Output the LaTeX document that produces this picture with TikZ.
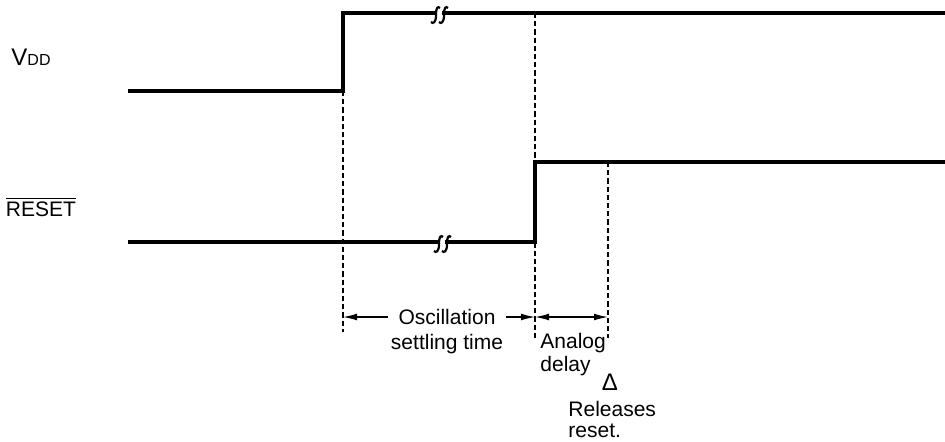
\documentclass[tikz,border=0pt]{standalone}
\usepackage{fontspec}
\setmainfont{Liberation Sans}
\usetikzlibrary{arrows.meta}

\begin{document}
\begin{tikzpicture}[
x=0.5pt, y=-0.5pt,
signal/.style={line width=2pt},
guide/.style={line width=0.9pt, dash pattern=on 2.6pt off 1.5pt},
span/.style={line width=0.6pt, -{Latex[length=7pt,width=3.4pt]}},
twospan/.style={line width=0.6pt, {Latex[length=7pt,width=3.4pt]}-{Latex[length=7pt,width=3.4pt]}},
lbl/.style={font=\fontsize{10.5}{11.5}\selectfont, inner sep=0pt},
breakmark/.pic={
	\fill[white] (-3,-4) rectangle (2,4);
	\draw[line width=1.1pt] (-9,7) .. controls (-7,9) and (-4,8) .. (-4,0)
		.. controls (-4,-8) and (-2,-9) .. (0,-7);
	\draw[line width=1.1pt] (-1,7) .. controls (1,9) and (4,8) .. (4,0)
		.. controls (4,-8) and (6,-9) .. (8,-7);
}
]
\useasboundingbox (0,0) rectangle (945,441);

% signal names
\node[lbl] (vdd-lbl) at (31,57) {\fontsize{12}{12}\selectfont V{\fontsize{8}{8}\selectfont DD}};
\node[lbl] (rst-lbl) at (41,207) {$\overline{\mbox{RESET}}$};

% VDD
\coordinate (vdd-a) at (128,91);
\coordinate (vdd-b) at (343,91);
\coordinate (vdd-c) at (343,13);
\coordinate (vdd-d) at (945,13);
\draw[signal] (vdd-a) -- (vdd-b) -- (vdd-c) -- (vdd-d);
\pic at (440,15) {breakmark};

% RESET
\coordinate (rst-a) at (128,242);
\coordinate (rst-b) at (535,242);
\coordinate (rst-c) at (535,162);
\coordinate (rst-d) at (945,162);
\draw[signal] (rst-a) -- (rst-b) -- (rst-c) -- (rst-d);
\pic at (443,244) {breakmark};

% timing guides
\coordinate (g1-end) at (343,332);
\coordinate (g2-top) at (535,13);
\coordinate (g2-end) at (535,338);
\coordinate (g3-top) at (608,162);
\coordinate (g3-end) at (608,338);
\draw[guide] (vdd-b) -- (g1-end);
\draw[guide] (g2-top) -- (g2-end);
\draw[guide] (g3-top) -- (g3-end);

% spans
\coordinate (osc-l) at (343,317);
\coordinate (osc-r) at (535,317);
\coordinate (ana-r) at (608,317);
\node[lbl, inner xsep=5pt] (osc) at (447,317) {Oscillation};
\node[lbl, anchor=north] (settle) at (osc.south) [yshift=-4.5pt] {settling time};
\draw[span] (osc.west) -- (osc-l);
\draw[span] (osc.east) -- (osc-r);
\draw[twospan] (osc-r) -- (ana-r);
\node[lbl, align=left, anchor=north west] (ana) at (540,333) {Analog\\delay};
\node[lbl, font=\fontsize{12}{12}\selectfont] (delta) at (610,382) {Δ};
\node[lbl, align=left, anchor=north west, font=\fontsize{10.5}{10.5}\selectfont] (rel) at (568,401) {Releases\\reset.};
\end{tikzpicture}
\end{document}
